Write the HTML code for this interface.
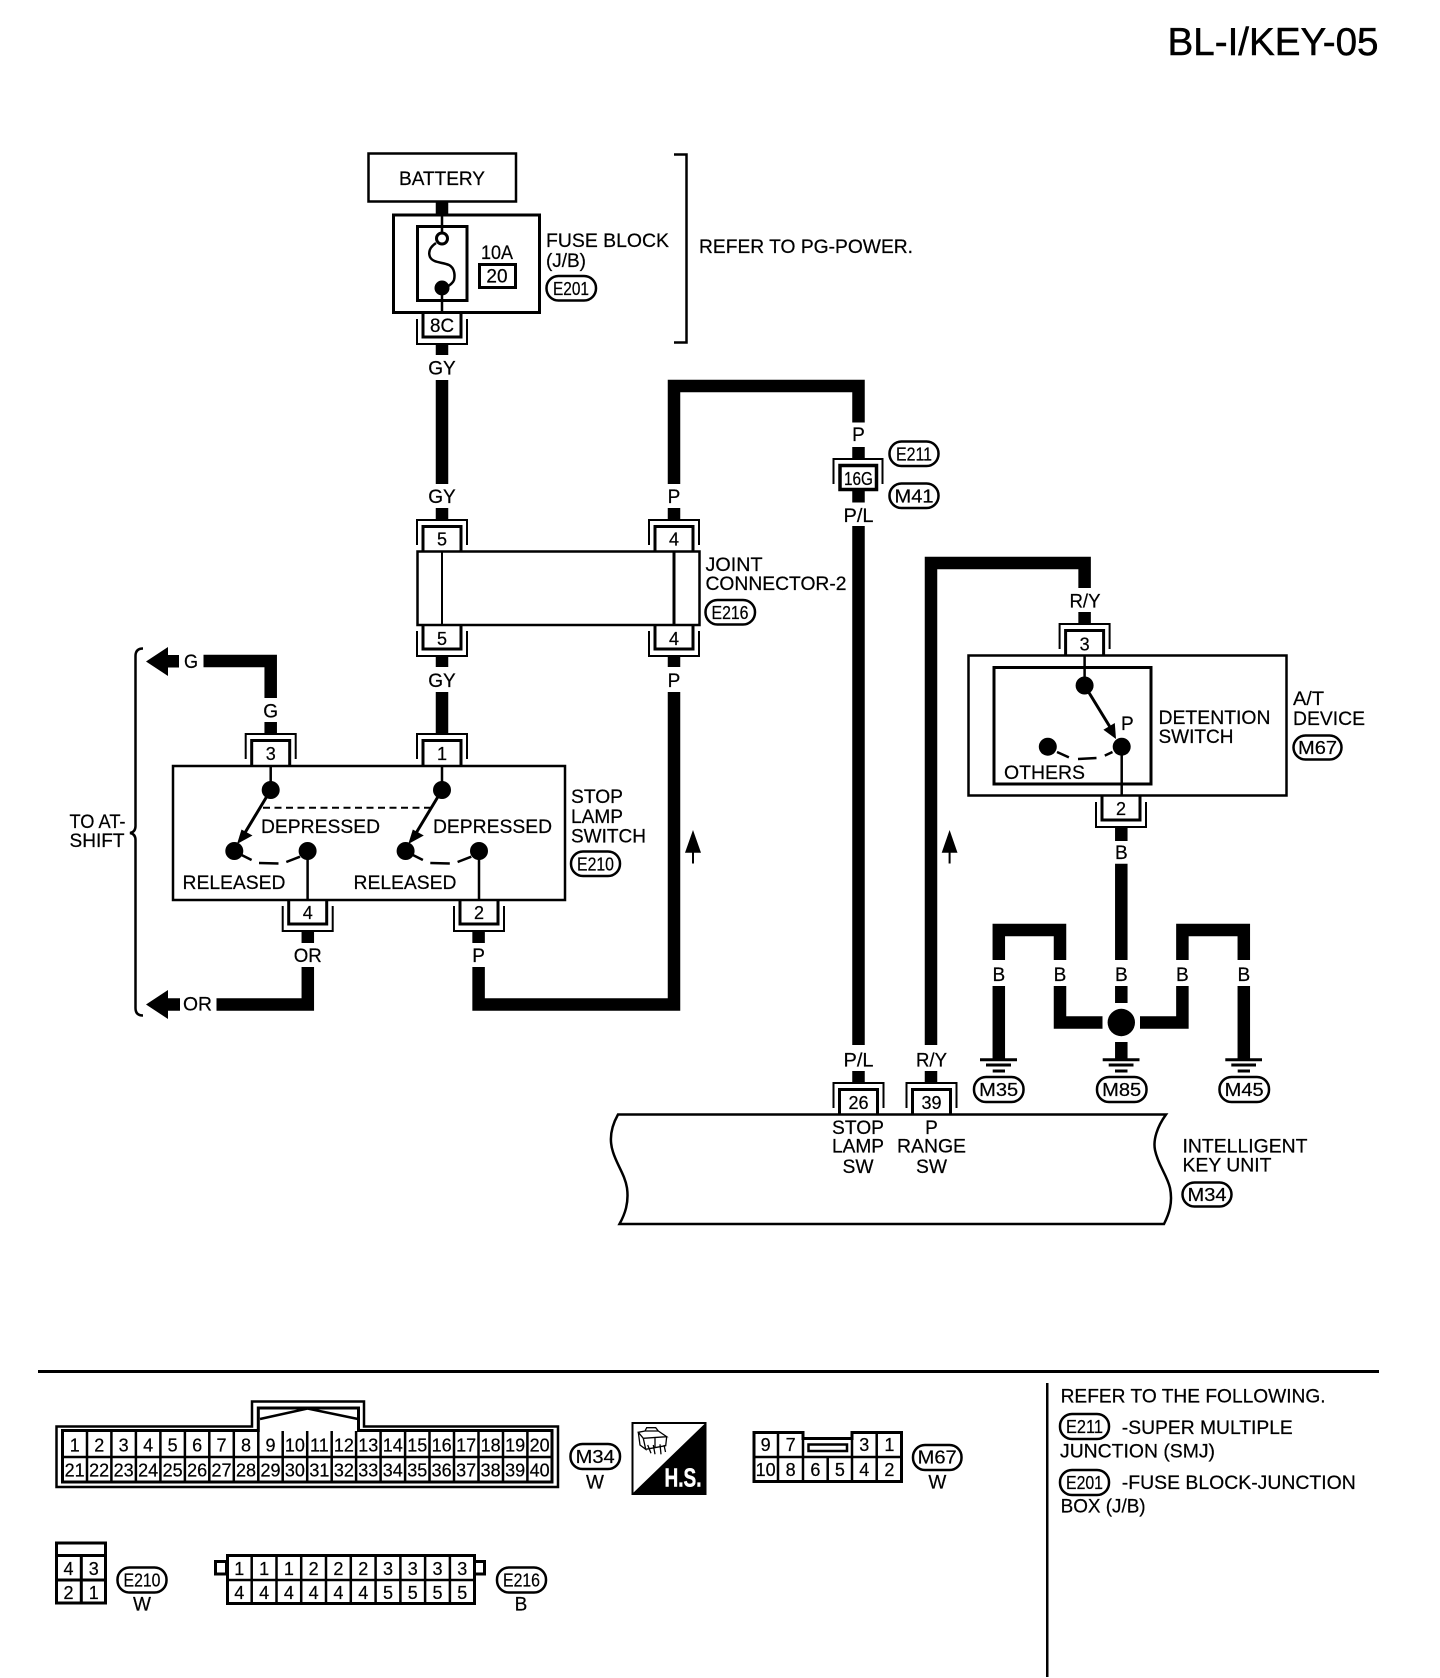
<!DOCTYPE html>
<html><head><meta charset="utf-8"><title>BL-I/KEY-05</title>
<style>
html,body{margin:0;padding:0;background:#fff}
svg{display:block}
text{font-family:"Liberation Sans",sans-serif;font-size:19px;fill:#000;stroke:#000;stroke-width:.22}
.c{text-anchor:middle}
.d{font-size:18px;text-anchor:middle}
.p{font-size:18.5px;text-anchor:middle}
.w{fill:none;stroke:#000;stroke-width:12.5;stroke-linejoin:miter}
.l{fill:none;stroke:#000;stroke-width:2.5}
.t{fill:none;stroke:#000;stroke-width:3}
.s{fill:none;stroke:#000;stroke-width:2}
.o{fill:#fff;stroke:#000;stroke-width:2.5}
</style></head><body>
<svg width="1440" height="1678" viewBox="0 0 1440 1678" xmlns="http://www.w3.org/2000/svg">
<defs>
<g id="ct"><path class="t" d="M-19 0V-24.5H19V0"/><path class="s" d="M-25 -6V-31H25V-6"/></g>
<g id="cb"><path class="t" d="M-19 0V24H19V0"/><path class="s" d="M-25 6V31H25V6"/></g>
</defs>
<rect width="1440" height="1678" fill="#fff"/>
<text x="1167.5" y="55" style="font-size:38.5px;stroke-width:.5" textLength="211" lengthAdjust="spacingAndGlyphs">BL-I/KEY-05</text>

<!-- wires -->
<path class="w" d="M442 202V214M442 343V355M442 380V484M442 508V520M442 656V667M442 692V735"/>
<path class="w" d="M674 484V386H858.5V422.5M858.5 447V458M858.5 490V502.5M858.5 526V1045M858.5 1071V1082"/>
<path class="w" d="M674 508V520M674 656V667M674 692V1004.5H478.6V967M478.6 931V943"/>
<path class="w" d="M203.5 661H270.7V698M270.7 722V735"/>
<path class="w" d="M216.5 1004.5H307.8V967M307.8 931V943"/>
<path class="w" d="M931 1045V563H1084.6V588M1084.6 612V625M931 1071V1082"/>
<path class="w" d="M1121.3 826V841M1121.3 863.7V960M1121.3 986V1003M1121.3 1042V1059"/>
<path class="w" d="M998.8 960V930H1060V960M1060 986V1022.5H1102.5M998.8 986V1059"/>
<path class="w" d="M1140 1022.5H1182.4V986M1182.4 960V930H1243.8V960M1243.8 986V1059"/>
<circle cx="1121.3" cy="1022.5" r="13.7"/>

<!-- battery + fuse -->
<rect class="l" x="368.5" y="153.5" width="147.5" height="48"/>
<text x="399" y="185" textLength="86" lengthAdjust="spacingAndGlyphs">BATTERY</text>
<rect class="t" x="393.5" y="215" width="146" height="97.5"/>
<rect class="t" x="417.5" y="226.5" width="49.5" height="74"/>
<path class="l" d="M442 215V232M442 290V312"/>
<circle class="t" cx="442" cy="238.5" r="5.5"/>
<circle cx="442" cy="288" r="7.5"/>
<path class="l" d="M436 243C430 247 428 252 430 257C433 263 442 262 449 265C455 268 455 276 454 280C453 283 450 285 447 287"/>
<text x="481" y="259" textLength="32" lengthAdjust="spacingAndGlyphs">10A</text>
<rect class="t" x="479.5" y="264.5" width="36" height="23"/>
<text class="c" x="497" y="282.5">20</text>
<text x="546" y="247" textLength="123" lengthAdjust="spacingAndGlyphs">FUSE BLOCK</text>
<text x="546" y="267" textLength="40" lengthAdjust="spacingAndGlyphs">(J/B)</text>
<rect class="l" x="546.5" y="276" width="49.5" height="24.5" rx="12"/>
<text class="p" x="571" y="295" textLength="36" lengthAdjust="spacingAndGlyphs">E201</text>
<use href="#cb" x="442" y="313"/>
<text class="c" x="442" y="332" textLength="24" lengthAdjust="spacingAndGlyphs">8C</text>
<text class="c" x="442" y="374.5">GY</text>
<text class="c" x="442" y="503">GY</text>
<path class="l" d="M674 154.5H686.5V342.5H674"/>
<text x="699" y="253" textLength="214" lengthAdjust="spacingAndGlyphs">REFER TO PG-POWER.</text>

<!-- 16G -->
<text class="c" x="858.5" y="441">P</text>
<path class="s" d="M833.5 484V459H882.5V484"/>
<rect x="840" y="465.5" width="36.5" height="24" fill="#fff" stroke="#000" stroke-width="3.5"/>
<text class="d" x="858.5" y="485" textLength="29" lengthAdjust="spacingAndGlyphs">16G</text>
<text class="c" x="858.5" y="522" textLength="30" lengthAdjust="spacingAndGlyphs">P/L</text>
<rect class="l" x="889.5" y="441.5" width="49" height="24.5" rx="12"/>
<text class="p" x="914" y="460.5" textLength="36" lengthAdjust="spacingAndGlyphs">E211</text>
<rect class="l" x="889.5" y="483.5" width="49" height="24.5" rx="12"/>
<text class="p" x="914" y="502.5" textLength="39" lengthAdjust="spacingAndGlyphs">M41</text>

<!-- joint connector -->
<text class="c" x="674" y="503">P</text>
<use href="#ct" x="442" y="551"/><use href="#ct" x="674" y="551"/>
<text class="d" x="442" y="545.5">5</text><text class="d" x="674" y="545.5">4</text>
<rect class="l" x="417.5" y="551.5" width="282" height="73.5"/>
<path class="s" d="M442 551V625"/><path class="t" d="M674 551V625"/>
<use href="#cb" x="442" y="625"/><use href="#cb" x="674" y="625"/>
<text class="d" x="442" y="645">5</text><text class="d" x="674" y="645">4</text>
<text class="c" x="442" y="687">GY</text><text class="c" x="674" y="687">P</text>
<text x="705.5" y="571" textLength="57" lengthAdjust="spacingAndGlyphs">JOINT</text>
<text x="705.5" y="590" textLength="141" lengthAdjust="spacingAndGlyphs">CONNECTOR-2</text>
<rect class="l" x="705.5" y="600" width="49.5" height="24.5" rx="12"/>
<text class="p" x="730" y="619" textLength="37" lengthAdjust="spacingAndGlyphs">E216</text>

<!-- to AT-shift -->
<path class="l" d="M143 648.5Q135.5 648.5 135.5 656V826Q135.5 832 130 833Q135.5 834 135.5 840V1008Q135.5 1015.5 143 1015.5"/>
<text x="69.5" y="828" textLength="56" lengthAdjust="spacingAndGlyphs">TO AT-</text>
<text x="69.5" y="847" textLength="55" lengthAdjust="spacingAndGlyphs">SHIFT</text>
<polygon points="146,661.5 168,647 168,655 179,655 179,667.5 168,667.5 168,676"/>
<text x="184" y="668" textLength="14" lengthAdjust="spacingAndGlyphs">G</text>
<polygon points="146,1004.5 168,990 168,998.2 180,998.2 180,1010.8 168,1010.8 168,1019"/>
<text x="183" y="1010.5" textLength="29" lengthAdjust="spacingAndGlyphs">OR</text>
<text class="c" x="270.7" y="717.5">G</text>

<!-- stop lamp switch -->
<use href="#ct" x="270.7" y="765"/><use href="#ct" x="442" y="765"/>
<text class="d" x="270.7" y="760">3</text><text class="d" x="442" y="760">1</text>
<rect class="l" x="173" y="766" width="392" height="134"/>
<path class="l" d="M270.7 766V790M442 766V790M307.6 851V900M479 851V900"/>
<circle cx="270.7" cy="790" r="9"/><circle cx="442" cy="790" r="9"/>
<circle cx="234.3" cy="851" r="9"/><circle cx="307.6" cy="851" r="9"/>
<circle cx="405.6" cy="851" r="9"/><circle cx="479" cy="851" r="9"/>
<path class="t" d="M270.7 790L243 836M442 790L414.3 836"/>
<polygon points="237,844 241.5,829.5 252.5,835.5"/>
<polygon points="408.3,844 412.8,829.5 423.8,835.5"/>
<path d="M263 807.7H432.5" fill="none" stroke="#000" stroke-width="2" stroke-dasharray="7 4.5"/>
<path class="l" d="M241.6 855L251.6 860M259 863L278.5 863.5M286.3 862L300 856.7M412.9 855L422.9 860M430.3 863L449.8 863.5M457.6 862L471.3 856.7"/>
<text x="261" y="833" textLength="119" lengthAdjust="spacingAndGlyphs">DEPRESSED</text>
<text x="433" y="833" textLength="119" lengthAdjust="spacingAndGlyphs">DEPRESSED</text>
<text x="182.5" y="889" textLength="103" lengthAdjust="spacingAndGlyphs">RELEASED</text>
<text x="353.5" y="889" textLength="103" lengthAdjust="spacingAndGlyphs">RELEASED</text>
<text x="571" y="803" textLength="52" lengthAdjust="spacingAndGlyphs">STOP</text>
<text x="571" y="823" textLength="52" lengthAdjust="spacingAndGlyphs">LAMP</text>
<text x="571" y="842.5" textLength="75" lengthAdjust="spacingAndGlyphs">SWITCH</text>
<rect class="l" x="571" y="851.5" width="49" height="24.5" rx="12"/>
<text class="p" x="595.5" y="870.5" textLength="37" lengthAdjust="spacingAndGlyphs">E210</text>
<use href="#cb" x="307.7" y="900"/><use href="#cb" x="479" y="900"/>
<text class="d" x="307.7" y="919">4</text><text class="d" x="479" y="919">2</text>
<text class="c" x="307.7" y="962" textLength="28" lengthAdjust="spacingAndGlyphs">OR</text>
<text class="c" x="478.6" y="962">P</text>
<polygon points="693,830 701,852.7 685,852.7"/><rect x="692" y="850" width="2" height="13.5"/>
<polygon points="949.6,830 957.5,852.7 941.7,852.7"/><rect x="948.6" y="850" width="2" height="13.5"/>

<!-- A/T device -->
<text class="c" x="1085" y="607.5" textLength="31" lengthAdjust="spacingAndGlyphs">R/Y</text>
<use href="#ct" x="1084.6" y="655"/>
<text class="d" x="1084.6" y="650.5">3</text>
<rect class="l" x="968.5" y="655.5" width="318" height="140"/>
<rect class="t" x="994" y="667.5" width="157" height="116.5"/>
<path class="l" d="M1084.6 656V686M1121.7 747V796"/>
<circle cx="1084.6" cy="685.5" r="9"/><circle cx="1121.7" cy="746.7" r="9"/><circle cx="1047.8" cy="746.7" r="9"/>
<path class="t" d="M1084.6 685.5L1110 727"/>
<polygon points="1116,739 1103.4,729.7 1114.8,723"/>
<path class="l" d="M1057 752L1068.9 757.4M1078 759L1096.5 758M1104.8 755.6L1112.5 752"/>
<text x="1121" y="730">P</text>
<text x="1004" y="779" textLength="81" lengthAdjust="spacingAndGlyphs">OTHERS</text>
<text x="1158.5" y="724" textLength="112" lengthAdjust="spacingAndGlyphs">DETENTION</text>
<text x="1158.5" y="743" textLength="75" lengthAdjust="spacingAndGlyphs">SWITCH</text>
<text x="1293" y="705" textLength="31" lengthAdjust="spacingAndGlyphs">A/T</text>
<text x="1293" y="725" textLength="72" lengthAdjust="spacingAndGlyphs">DEVICE</text>
<rect class="l" x="1293.5" y="735.5" width="48" height="24" rx="12"/>
<text class="p" x="1317.5" y="754" textLength="39" lengthAdjust="spacingAndGlyphs">M67</text>
<use href="#cb" x="1121" y="796"/>
<text class="d" x="1121" y="815">2</text>

<!-- grounds -->
<text class="c" x="1121.3" y="859">B</text>
<text class="c" x="998.8" y="981">B</text><text class="c" x="1060" y="981">B</text><text class="c" x="1121.3" y="981">B</text><text class="c" x="1182.4" y="981">B</text><text class="c" x="1243.8" y="981">B</text>
<path class="t" d="M980 1059.7H1017M986 1065H1011M992.7 1071H1005"/>
<path class="t" d="M1102.7 1059.7H1139.5M1108.7 1065H1133.5M1115 1071H1127.5"/>
<path class="t" d="M1225.3 1059.7H1262M1231.3 1065H1256M1237.7 1071H1250"/>
<rect class="l" x="974" y="1077" width="49.5" height="25" rx="12"/>
<text class="p" x="998.7" y="1096" textLength="39" lengthAdjust="spacingAndGlyphs">M35</text>
<rect class="l" x="1097" y="1077" width="49.5" height="25" rx="12"/>
<text class="p" x="1121.7" y="1096" textLength="39" lengthAdjust="spacingAndGlyphs">M85</text>
<rect class="l" x="1219.5" y="1077" width="49.5" height="25" rx="12"/>
<text class="p" x="1244.2" y="1096" textLength="39" lengthAdjust="spacingAndGlyphs">M45</text>

<!-- intelligent key unit -->
<text class="c" x="858.5" y="1066.5" textLength="30" lengthAdjust="spacingAndGlyphs">P/L</text>
<text class="c" x="931.5" y="1066.5" textLength="31" lengthAdjust="spacingAndGlyphs">R/Y</text>
<use href="#ct" x="858.5" y="1114"/><use href="#ct" x="931.5" y="1114"/>
<text class="d" x="858.5" y="1109">26</text><text class="d" x="931.5" y="1109">39</text>
<path class="l" d="M618 1114.5H1166C1157 1127 1153 1140 1155 1150C1158 1165 1167 1175 1170 1188C1173 1203 1169 1214 1164 1224H619.5C625 1214 629 1203 627 1188C625 1175 617 1165 613 1152C609 1140 611 1127 618 1114.5Z"/>
<text class="c" x="858" y="1134" textLength="52" lengthAdjust="spacingAndGlyphs">STOP</text>
<text class="c" x="858" y="1152.5" textLength="52" lengthAdjust="spacingAndGlyphs">LAMP</text>
<text class="c" x="858" y="1173" textLength="31" lengthAdjust="spacingAndGlyphs">SW</text>
<text class="c" x="931.5" y="1134">P</text>
<text class="c" x="931.5" y="1152.5" textLength="69" lengthAdjust="spacingAndGlyphs">RANGE</text>
<text class="c" x="931.5" y="1173" textLength="31" lengthAdjust="spacingAndGlyphs">SW</text>
<text x="1182.5" y="1152.5" textLength="125" lengthAdjust="spacingAndGlyphs">INTELLIGENT</text>
<text x="1182.5" y="1171.7" textLength="89" lengthAdjust="spacingAndGlyphs">KEY UNIT</text>
<rect class="l" x="1182.5" y="1182.5" width="49" height="24" rx="12"/>
<text class="p" x="1207" y="1201" textLength="39" lengthAdjust="spacingAndGlyphs">M34</text>

<!-- separators -->
<rect x="38" y="1370" width="1341" height="3"/>
<rect x="1046" y="1383" width="2.5" height="294"/>

<!-- M34 connector -->
<path class="l" d="M56.5 1487V1426.5H252V1401.5H364V1426.5H558V1487Z"/>
<path class="t" d="M62.5 1430.5H258.3V1408H358.5V1430.5H552V1482H62.5Z"/>
<path class="l" d="M260 1419L307.5 1408.5L358 1419"/>
<path d="M87 1431V1481M111.4 1431V1481M135.9 1431V1481M160.4 1431V1481M184.9 1431V1481M209.3 1431V1481M233.8 1431V1481M258.3 1431V1481M282.7 1431V1481M307.2 1431V1481M331.7 1431V1481M356.1 1431V1481M380.6 1431V1481M405.1 1431V1481M429.5 1431V1481M454 1431V1481M478.5 1431V1481M503 1431V1481M527.4 1431V1481M62.5 1457H552" fill="none" stroke="#000" stroke-width="2.5"/>
<text class="d" x="74.7" y="1451.5">1</text><text class="d" x="99.2" y="1451.5">2</text><text class="d" x="123.6" y="1451.5">3</text><text class="d" x="148.1" y="1451.5">4</text><text class="d" x="172.6" y="1451.5">5</text><text class="d" x="197.1" y="1451.5">6</text><text class="d" x="221.5" y="1451.5">7</text><text class="d" x="246" y="1451.5">8</text><text class="d" x="270.5" y="1451.5">9</text><text class="d" x="294.9" y="1451.5">10</text><text class="d" x="319.4" y="1451.5">11</text><text class="d" x="343.9" y="1451.5">12</text><text class="d" x="368.3" y="1451.5">13</text><text class="d" x="392.8" y="1451.5">14</text><text class="d" x="417.3" y="1451.5">15</text><text class="d" x="441.7" y="1451.5">16</text><text class="d" x="466.2" y="1451.5">17</text><text class="d" x="490.7" y="1451.5">18</text><text class="d" x="515.2" y="1451.5">19</text><text class="d" x="539.6" y="1451.5">20</text>
<text class="d" x="74.7" y="1476.5">21</text><text class="d" x="99.2" y="1476.5">22</text><text class="d" x="123.6" y="1476.5">23</text><text class="d" x="148.1" y="1476.5">24</text><text class="d" x="172.6" y="1476.5">25</text><text class="d" x="197.1" y="1476.5">26</text><text class="d" x="221.5" y="1476.5">27</text><text class="d" x="246" y="1476.5">28</text><text class="d" x="270.5" y="1476.5">29</text><text class="d" x="294.9" y="1476.5">30</text><text class="d" x="319.4" y="1476.5">31</text><text class="d" x="343.9" y="1476.5">32</text><text class="d" x="368.3" y="1476.5">33</text><text class="d" x="392.8" y="1476.5">34</text><text class="d" x="417.3" y="1476.5">35</text><text class="d" x="441.7" y="1476.5">36</text><text class="d" x="466.2" y="1476.5">37</text><text class="d" x="490.7" y="1476.5">38</text><text class="d" x="515.2" y="1476.5">39</text><text class="d" x="539.6" y="1476.5">40</text>
<rect class="l" x="570.5" y="1444" width="49.5" height="25" rx="12"/>
<text class="p" x="595.2" y="1463" textLength="39" lengthAdjust="spacingAndGlyphs">M34</text>
<text class="c" x="595" y="1488.5">W</text>

<!-- H.S. icon -->
<rect class="s" x="632.5" y="1423" width="73" height="71"/>
<polygon points="706,1422.5 632,1494 706,1494"/>
<text x="664.5" y="1486.5" style="font-size:26px;font-weight:bold;fill:#fff;stroke:#fff;stroke-width:.5" textLength="37" lengthAdjust="spacingAndGlyphs">H.S.</text>
<path d="M645 1431L646.7 1427.7H655.7L658.3 1431M638.3 1432.3L645 1431L658.3 1431L666.7 1436.7L643.3 1438.3ZM638.3 1432.3L640 1445L645.7 1449.3L643.3 1438.3M666.7 1436.7L665.7 1445.7L645.7 1449.3M655 1437.7V1448.3M647.7 1445L651 1453.3M653.3 1445L655 1454.3M660 1444.3L661 1454.3M664 1445L665.5 1452" fill="none" stroke="#000" stroke-width="1.3"/>

<!-- M67 connector -->
<path class="t" d="M754 1457V1432.5H803V1438.5H852V1432.5H901.5V1481.5H754Z"/>
<path d="M778 1432V1481M803 1432V1481M827.7 1457V1481M852 1432V1481M876.7 1432V1481M754 1457H901.5" fill="none" stroke="#000" stroke-width="2.5"/>
<rect class="l" x="808.5" y="1444.5" width="38.5" height="6.5"/>
<rect x="754" y="1480" width="148" height="3"/>
<text class="d" x="765.6" y="1451">9</text><text class="d" x="790.6" y="1451">7</text><text class="d" x="864.3" y="1451">3</text><text class="d" x="889.4" y="1451">1</text>
<text class="d" x="765.6" y="1476">10</text><text class="d" x="790.6" y="1476">8</text><text class="d" x="815.4" y="1476">6</text><text class="d" x="839.9" y="1476">5</text><text class="d" x="864.3" y="1476">4</text><text class="d" x="889.4" y="1476">2</text>
<rect class="l" x="913" y="1445" width="48.5" height="25" rx="12"/>
<text class="p" x="937.2" y="1463.5" textLength="39" lengthAdjust="spacingAndGlyphs">M67</text>
<text class="c" x="937.4" y="1488.5">W</text>

<!-- E210 connector -->
<rect class="t" x="56.5" y="1543" width="49" height="60"/>
<path class="t" d="M56.5 1555.5H105.5M56.5 1580H105.5M81.3 1555.5V1603"/>
<text class="d" x="68.5" y="1575">4</text><text class="d" x="93.8" y="1575">3</text>
<text class="d" x="68.5" y="1599">2</text><text class="d" x="93.8" y="1599">1</text>
<rect class="l" x="117.5" y="1567.5" width="49" height="25" rx="12"/>
<text class="p" x="142" y="1586.5" textLength="37" lengthAdjust="spacingAndGlyphs">E210</text>
<text class="c" x="142" y="1610.7">W</text>

<!-- E216 connector -->
<rect class="t" x="215.5" y="1561.5" width="11" height="12.5"/>
<rect class="t" x="474.5" y="1561.5" width="10" height="12.5"/>
<rect class="o" style="stroke-width:3" x="227.5" y="1555.5" width="247" height="48"/>
<path d="M251.7 1555V1603M276.5 1555V1603M301.2 1555V1603M326 1555V1603M350.8 1555V1603M375.6 1555V1603M400.4 1555V1603M425.1 1555V1603M449.9 1555V1603M227.5 1580H474.5" fill="none" stroke="#000" stroke-width="2.5"/>
<text class="d" x="239.3" y="1575">1</text><text class="d" x="264.1" y="1575">1</text><text class="d" x="288.9" y="1575">1</text><text class="d" x="313.6" y="1575">2</text><text class="d" x="338.4" y="1575">2</text><text class="d" x="363.2" y="1575">2</text><text class="d" x="388" y="1575">3</text><text class="d" x="412.8" y="1575">3</text><text class="d" x="437.5" y="1575">3</text><text class="d" x="462.3" y="1575">3</text>
<text class="d" x="239.3" y="1599">4</text><text class="d" x="264.1" y="1599">4</text><text class="d" x="288.9" y="1599">4</text><text class="d" x="313.6" y="1599">4</text><text class="d" x="338.4" y="1599">4</text><text class="d" x="363.2" y="1599">4</text><text class="d" x="388" y="1599">5</text><text class="d" x="412.8" y="1599">5</text><text class="d" x="437.5" y="1599">5</text><text class="d" x="462.3" y="1599">5</text>
<rect class="l" x="497" y="1567.5" width="49" height="25" rx="12"/>
<text class="p" x="521.5" y="1586.5" textLength="37" lengthAdjust="spacingAndGlyphs">E216</text>
<text class="c" x="521" y="1610.7">B</text>

<!-- refer notes -->
<text x="1060.6" y="1402.7" textLength="265" lengthAdjust="spacingAndGlyphs">REFER TO THE FOLLOWING.</text>
<rect class="l" x="1060" y="1414" width="49" height="25" rx="12"/>
<text class="p" x="1084.5" y="1433" textLength="37" lengthAdjust="spacingAndGlyphs">E211</text>
<text x="1121.8" y="1434" textLength="171" lengthAdjust="spacingAndGlyphs">-SUPER MULTIPLE</text>
<text x="1060" y="1457.7" textLength="155" lengthAdjust="spacingAndGlyphs">JUNCTION (SMJ)</text>
<rect class="l" x="1060" y="1470" width="49" height="25" rx="12"/>
<text class="p" x="1084.5" y="1489" textLength="37" lengthAdjust="spacingAndGlyphs">E201</text>
<text x="1121.8" y="1489" textLength="234" lengthAdjust="spacingAndGlyphs">-FUSE BLOCK-JUNCTION</text>
<text x="1060.6" y="1512.3" textLength="85" lengthAdjust="spacingAndGlyphs">BOX (J/B)</text>
</svg>
</body></html>
